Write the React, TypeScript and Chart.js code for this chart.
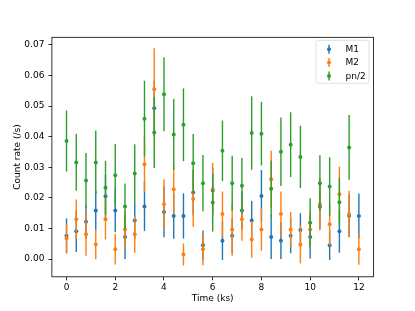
import React, { useEffect, useRef } from "react";
import { Chart, registerables } from "chart.js";

Chart.register(...registerables);

// ---- data ----
const times = [0, 0.4, 0.8, 1.2, 1.6, 2.0, 2.4, 2.8, 3.2, 3.6, 4.0, 4.4, 4.8, 5.2, 5.6, 6.0, 6.4, 6.8, 7.2, 7.6, 8.0, 8.4, 8.8, 9.2, 9.6, 10.0, 10.4, 10.8, 11.2, 11.6, 12.0];

const m1Values = [0.0076, 0.0091, 0.0122, 0.0159, 0.0205, 0.0159, 0.0072, 0.0126, 0.0172, 0.0493, 0.0154, 0.0141, 0.0141, 0.0218, 0.0045, 0.0224, 0.0060, 0.0076, 0.0159, 0.0126, 0.0206, 0.0072, 0.0060, 0.0076, 0.0095, 0.0072, 0.0171, 0.0045, 0.0091, 0.0142, 0.0141];
const m1Errors = [0.0057, 0.0068, 0.0055, 0.0065, 0.0070, 0.0071, 0.0072, 0.0060, 0.0080, 0.0090, 0.0083, 0.0075, 0.0074, 0.0075, 0.0048, 0.0075, 0.0063, 0.0057, 0.0062, 0.0064, 0.0085, 0.0072, 0.0060, 0.0057, 0.0055, 0.0070, 0.0072, 0.0048, 0.0070, 0.0070, 0.0073];

const m2Values = [0.0067, 0.0130, 0.0081, 0.0048, 0.0130, 0.0032, 0.0097, 0.0081, 0.0310, 0.0555, 0.0179, 0.0228, 0.0015, 0.0196, 0.0032, 0.0228, 0.0147, 0.0097, 0.0130, 0.0064, 0.0097, 0.0261, 0.0147, 0.0097, 0.0048, 0.0097, 0.0179, 0.0114, 0.0212, 0.0147, 0.0032];
const m2Errors = [0.0048, 0.0065, 0.0070, 0.0049, 0.0066, 0.0050, 0.0060, 0.0060, 0.0090, 0.0134, 0.0082, 0.0080, 0.0036, 0.0090, 0.0052, 0.0086, 0.0074, 0.0086, 0.0070, 0.0060, 0.0070, 0.0093, 0.0074, 0.0057, 0.0062, 0.0060, 0.0086, 0.0070, 0.0090, 0.0076, 0.0051];

const pnTimes = [0, 0.4, 0.8, 1.2, 1.6, 2.0, 2.4, 2.8, 3.2, 3.6, 4.0, 4.4, 4.8, 5.2, 5.6, 6.0, 6.4, 6.8, 7.2, 7.6, 8.0, 8.4, 8.8, 9.2, 9.6, 10.0, 10.4, 10.8, 11.2, 11.6];
const pnValues = [0.0386, 0.0316, 0.0257, 0.0316, 0.0233, 0.0274, 0.0172, 0.0280, 0.0459, 0.0414, 0.0539, 0.0407, 0.0439, 0.0313, 0.0248, 0.0185, 0.0354, 0.0248, 0.0240, 0.0412, 0.0410, 0.0230, 0.0351, 0.0374, 0.0334, 0.0119, 0.0248, 0.0237, 0.0186, 0.0365];
const pnErrors = [0.0100, 0.0093, 0.0090, 0.0104, 0.0088, 0.0102, 0.0075, 0.0095, 0.0124, 0.0116, 0.0121, 0.0116, 0.0119, 0.0096, 0.0092, 0.0095, 0.0099, 0.0090, 0.0090, 0.0120, 0.0104, 0.0092, 0.0112, 0.0106, 0.0102, 0.0080, 0.0091, 0.0096, 0.0080, 0.0106];

const seriesNames = ["M1", "M2", "pn/2"];
const seriesColors = ["#1f77b4", "#ff7f0e", "#2ca02c"];

const xTickValues = [0, 2, 4, 6, 8, 10, 12];
const yTickValues = [0, 0.01, 0.02, 0.03, 0.04, 0.05, 0.06, 0.07];

const xTitle = "Time (ks)";
const yTitle = "Count rate (/s)";

const FONT = "DejaVu Sans";

function toPoints(xs: number[], ys: number[]) {
  return xs.map((x, i) => ({ x, y: ys[i] }));
}

const errorBarPlugin = {
  id: "errorBars",
  beforeDatasetDraw(chart: any, args: any) {
    const ds = chart.data.datasets[args.index];
    const errs: number[] = ds.errors;
    if (!errs) return;
    const ctx = chart.ctx;
    const xs = chart.scales.x;
    const ys = chart.scales.y;
    ctx.save();
    ctx.strokeStyle = ds.backgroundColor;
    ctx.lineWidth = 1.4;
    ds.data.forEach((p: any, i: number) => {
      const px = xs.getPixelForValue(p.x);
      const y1 = ys.getPixelForValue(p.y - errs[i]);
      const y2 = ys.getPixelForValue(p.y + errs[i]);
      ctx.beginPath();
      ctx.moveTo(px, y1);
      ctx.lineTo(px, y2);
      ctx.stroke();
    });
    ctx.restore();
  },
};

const framePlugin = {
  id: "frameAndLegend",
  afterDraw(chart: any) {
    const ctx = chart.ctx;
    const a = chart.chartArea;
    ctx.save();
    ctx.strokeStyle = "#000";
    ctx.lineWidth = 0.8;
    ctx.strokeRect(a.left, a.top, a.right - a.left, a.bottom - a.top);

    // legend box (upper right, inside axes)
    const bw = 53;
    const bh = 43;
    const bx = a.right - 4.5 - bw;
    const by = a.top + 3;
    const r = 2.5;
    ctx.beginPath();
    ctx.moveTo(bx + r, by);
    ctx.lineTo(bx + bw - r, by);
    ctx.quadraticCurveTo(bx + bw, by, bx + bw, by + r);
    ctx.lineTo(bx + bw, by + bh - r);
    ctx.quadraticCurveTo(bx + bw, by + bh, bx + bw - r, by + bh);
    ctx.lineTo(bx + r, by + bh);
    ctx.quadraticCurveTo(bx, by + bh, bx, by + bh - r);
    ctx.lineTo(bx, by + r);
    ctx.quadraticCurveTo(bx, by, bx + r, by);
    ctx.closePath();
    ctx.fillStyle = "rgba(255,255,255,0.8)";
    ctx.fill();
    ctx.strokeStyle = "rgba(204,204,204,0.8)";
    ctx.lineWidth = 0.8;
    ctx.stroke();

    ctx.font = `9px "${FONT}"`;
    ctx.textBaseline = "middle";
    ctx.textAlign = "left";
    seriesNames.forEach((name, i) => {
      const cy = by + 9 + i * 13.3;
      const ix = bx + 13;
      ctx.strokeStyle = seriesColors[i];
      ctx.lineWidth = 1.4;
      ctx.beginPath();
      ctx.moveTo(ix, cy - 4.5);
      ctx.lineTo(ix, cy + 4.5);
      ctx.stroke();
      ctx.fillStyle = seriesColors[i];
      ctx.beginPath();
      ctx.arc(ix, cy, 2, 0, Math.PI * 2);
      ctx.fill();
      ctx.fillStyle = "#000";
      ctx.fillText(name, bx + 29.5, cy + 0.5);
    });
    ctx.restore();
  },
};

export default function App() {
  const canvasRef = useRef<HTMLCanvasElement | null>(null);

  useEffect(() => {
    const canvas = canvasRef.current;
    if (!canvas) return;
    const seriesX = [times, times, pnTimes];
    const seriesY = [m1Values, m2Values, pnValues];
    const seriesE = [m1Errors, m2Errors, pnErrors];
    const datasets: any[] = seriesNames.map((name, i) => ({
      label: name,
      data: toPoints(seriesX[i], seriesY[i]),
      errors: seriesE[i],
      backgroundColor: seriesColors[i],
      borderColor: seriesColors[i],
      pointRadius: 2,
      pointBorderWidth: 0,
      showLine: false,
      order: 3 - i,
    }));

    const chart = new Chart(canvas, {
      type: "scatter",
      data: { datasets },
      options: {
        animation: false,
        responsive: false,
        devicePixelRatio: 1,
        layout: { padding: { left: 0, right: 41.5, top: 37.3, bottom: 0 } },
        plugins: {
          legend: { display: false },
          tooltip: { enabled: false },
        },
        scales: {
          x: {
            type: "linear",
            min: -0.6,
            max: 12.6,
            afterFit: (s: any) => {
              s.height = 34.2;
            },
            afterBuildTicks: (s: any) => {
              s.ticks = xTickValues.map((v) => ({ value: v }));
            },
            ticks: {
              color: "#000",
              font: { family: FONT, size: 9 },
              padding: 2,
              maxRotation: 0,
              autoSkip: false,
              callback: (v: any) => String(v),
            },
            grid: {
              display: true,
              drawOnChartArea: false,
              drawTicks: true,
              tickLength: 3.5,
              tickColor: "#000",
              tickWidth: 0.8,
            },
            border: { display: false },
            title: {
              display: true,
              text: xTitle,
              color: "#000",
              font: { family: FONT, size: 9 },
              padding: { top: 0, bottom: 6.6 },
            },
          },
          y: {
            type: "linear",
            min: -0.0058,
            max: 0.0725,
            afterFit: (s: any) => {
              s.width = 51.9;
            },
            afterBuildTicks: (s: any) => {
              s.ticks = yTickValues.map((v) => ({ value: v }));
            },
            ticks: {
              color: "#000",
              font: { family: FONT, size: 9 },
              padding: 4,
              autoSkip: false,
              callback: (v: any) => Number(v).toFixed(2),
            },
            grid: {
              display: true,
              drawOnChartArea: false,
              drawTicks: true,
              tickLength: 3.5,
              tickColor: "#000",
              tickWidth: 0.8,
            },
            border: { display: false },
            title: {
              display: true,
              text: yTitle,
              color: "#000",
              font: { family: FONT, size: 9 },
              padding: { top: 12.3, bottom: 0 },
            },
          },
        },
      } as any,
      plugins: [errorBarPlugin, framePlugin],
    });
    return () => chart.destroy();
  }, []);

  return (
    <div style={{ position: "fixed", left: 0, top: 0, width: 415, height: 311, background: "#fff" }}>
      <canvas ref={canvasRef} width={415} height={311} style={{ display: "block" }} />
    </div>
  );
}
